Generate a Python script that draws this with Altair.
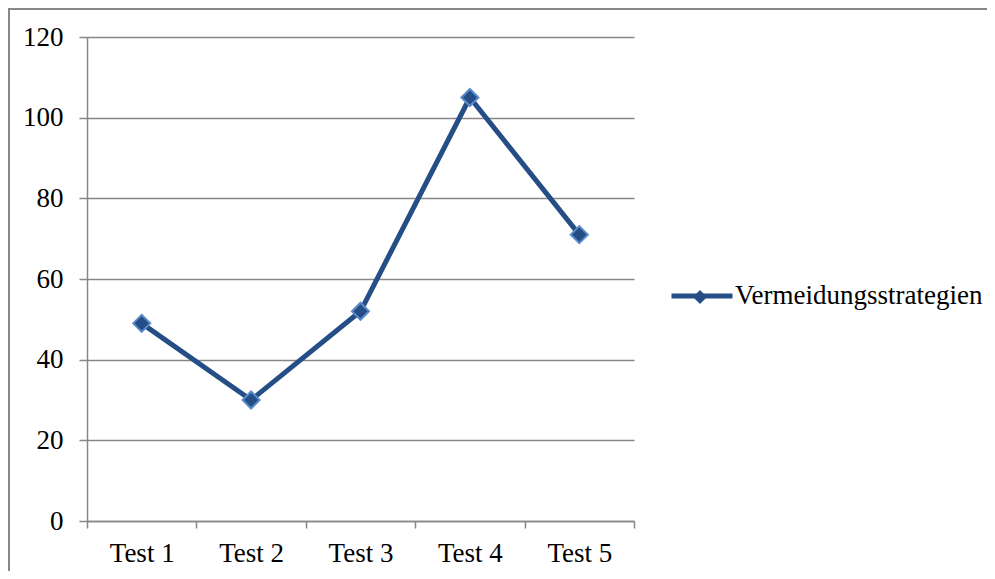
import altair as alt
import pandas as pd

tests = ["Test 1", "Test 2", "Test 3", "Test 4", "Test 5"]
values = [49, 30, 52, 105, 71]
series_name = "Vermeidungsstrategien"
y_ticks = [0, 20, 40, 60, 80, 100, 120]

df = pd.DataFrame({
    "test": tests,
    "value": values,
    "series": [series_name] * len(tests),
    "series2": [series_name] * len(tests),
})

FONT = "Liberation Serif"
GREY = "#878787"
DARK = "#254E86"
LIGHT = "#5A8ACB"

W, H = 547, 484

x_enc = alt.X(
    "test:N", sort=tests, bandPosition=0.5,
    scale=alt.Scale(type="band", paddingInner=0, paddingOuter=0),
    axis=alt.Axis(title=None, labelAngle=0, tickBand="extent", tickSize=7,
                  labelPadding=12, domainColor=GREY, tickColor=GREY,
                  domainWidth=1.5, tickWidth=1.5, grid=False),
)
y_enc = alt.Y(
    "value:Q",
    scale=alt.Scale(domain=[0, 120], nice=False, zero=True),
    axis=alt.Axis(title=None, values=y_ticks, tickSize=8, labelPadding=16,
                  domainColor=GREY, tickColor=GREY, gridColor=GREY,
                  domainWidth=1.5, tickWidth=1.5, gridWidth=1.3),
)

line = alt.Chart(df).mark_line(strokeWidth=5, strokeCap="round", strokeJoin="round").encode(
    x=x_enc, y=y_enc,
    color=alt.Color("series:N", scale=alt.Scale(range=[DARK]),
                    legend=alt.Legend(title=None, orient="none", legendX=582, legendY=226,
                                      symbolType="stroke", symbolSize=3721,
                                      symbolStrokeWidth=5, labelOffset=0, padding=0)),
)

points = alt.Chart(df).mark_point(filled=True, fill=DARK, stroke=LIGHT, strokeWidth=2,
                                  size=290, opacity=1).encode(
    x=x_enc, y=y_enc,
    shape=alt.Shape("series2:N", scale=alt.Scale(range=["diamond"]),
                    legend=alt.Legend(title=None, orient="none", legendX=605, legendY=252,
                                      symbolSize=200, symbolFillColor=DARK,
                                      symbolStrokeColor=LIGHT, symbolStrokeWidth=1.5,
                                      symbolOpacity=1, labelExpr="''", labelFontSize=1,
                                      padding=0)),
)

frame_df = pd.DataFrame({"k": [0]})
frame = alt.Chart(frame_df).mark_rect(fill="transparent", stroke=GREY, strokeWidth=2).encode(
    x=alt.value(-78), x2=alt.value(W + 400), y=alt.value(-28), y2=alt.value(H + 200),
)

chart = alt.layer(frame, line, points).resolve_legend(
    color="independent", shape="independent"
).properties(
    width=W, height=H,
    autosize=alt.AutoSizeParams(type="none"),
    padding={"left": 79, "top": 29, "right": 353, "bottom": 50},
).configure_view(stroke=None).configure_axis(
    labelFont=FONT, labelFontSize=27, labelColor="black",
).configure_legend(
    labelFont=FONT, labelFontSize=27, labelColor="black", labelLimit=0,
)

chart.save("out.html", embed_options={"renderer": "svg", "actions": False})
